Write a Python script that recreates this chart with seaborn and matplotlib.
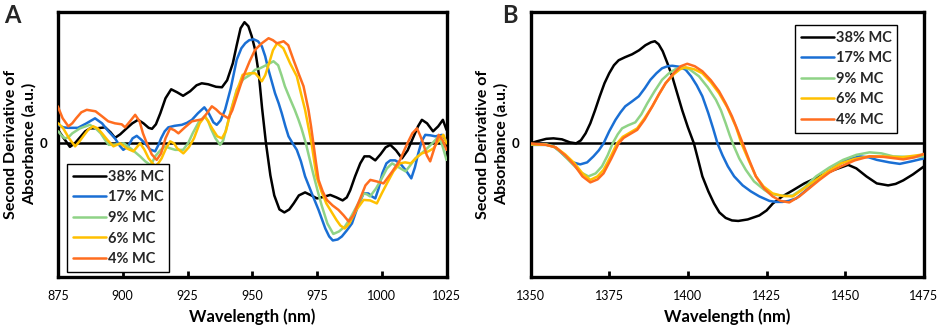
import matplotlib
matplotlib.use("Agg")
import matplotlib.pyplot as plt
import seaborn as sns
import pandas as pd

# ---------------- data ----------------
series_labels = ["38% MC", "17% MC", "9% MC", "6% MC", "4% MC"]
series_colors = ["#000000", "#1a6fd4", "#8fd386", "#ffc000", "#ff6d1f"]

# Panel A (875-1025 nm)
a_wl_38 = [875.0, 877, 879.6, 881.5, 883.5, 885.5, 887.4, 890, 893.2, 895.3, 897.0, 899, 901.5, 903.7,
           905.9, 908, 910, 911.3, 912.8, 914.5, 916.5, 918.7, 921, 923.3, 926, 928.5, 930.5, 933, 936,
           938.3, 940.3, 942.5, 944, 945.5, 947.0, 948.5, 949.8, 951.1, 952.5, 953.8, 955.3, 957, 958.5,
           960.5, 962.4, 964.3, 966, 968, 970.4, 972.8, 975.0, 977.5, 980.1, 982.5, 984.9, 986.5, 987.8,
           989.7, 991.7, 993.3, 995.3, 997.5, 999.5, 1001.5, 1003.3, 1005.5, 1007.8, 1010, 1012, 1014,
           1015.5, 1017.5, 1019.8, 1021.8, 1023.6, 1025.0]
a_v_38 = [0.135, 0.06, -0.035, 0.0, 0.06, 0.12, 0.15, 0.15, 0.16, 0.11, 0.055, 0.09, 0.15, 0.2,
          0.235, 0.2, 0.155, 0.145, 0.19, 0.3, 0.45, 0.54, 0.51, 0.475, 0.52, 0.58, 0.6, 0.59, 0.565,
          0.56, 0.63, 0.8, 0.98, 1.15, 1.21, 1.17, 1.07, 0.935, 0.7, 0.35, 0.0, -0.32, -0.52,
          -0.66, -0.69, -0.66, -0.6, -0.52, -0.49, -0.52, -0.55, -0.535, -0.515, -0.54, -0.57, -0.54, -0.47,
          -0.33, -0.2, -0.13, -0.13, -0.17, -0.11, -0.04, -0.015, -0.07, -0.15, -0.07, 0.05, 0.17,
          0.235, 0.2, 0.12, 0.17, 0.235, 0.135]

a_wl_17 = [875.1, 877, 878.9, 882.7, 886, 889.3, 892, 894.5, 897.0, 898.7, 900.2, 902, 903.8, 905.4,
           907, 908.6, 910.5, 912.5, 913.7, 914.8, 916.2, 917.6, 920, 922.8, 924.8, 926.7, 929, 931.5,
           933.2, 935, 936.3, 937.8, 939.5, 941.7, 944.0, 945.8, 947.3, 948.8, 950.5, 952.2, 953.7, 955,
           956.1, 957.5, 958.8, 960.2, 961.4, 962.8, 964.0, 965.6, 967.2, 968.8, 970.4, 973, 975.6, 978.2,
           979.7, 981.1, 983, 984.6, 986.5, 988.5, 990.9, 993.0, 994.8, 996.2, 997.5, 998.8, 1000.2,
           1001.8, 1003.3, 1005.2, 1007.1, 1009.3, 1011.4, 1012.8, 1014.1, 1015.4, 1016.8, 1018.8,
           1020.7, 1023.3, 1025.0]
a_v_17 = [0.185, 0.16, 0.155, 0.155, 0.2, 0.25, 0.2, 0.12, 0.05, -0.02, -0.065, -0.03, 0.05, 0.075,
          0.04, 0.0, -0.06, -0.08, -0.02, 0.05, 0.12, 0.16, 0.175, 0.185, 0.205, 0.235, 0.3, 0.36,
          0.3, 0.21, 0.185, 0.23, 0.335, 0.55, 0.835, 0.95, 1.0, 1.03, 1.04, 1.02, 0.97, 0.87,
          0.75, 0.62, 0.5, 0.4, 0.3, 0.17, 0.07, 0.0, -0.065, -0.18, -0.33, -0.5, -0.665, -0.85,
          -0.93, -0.97, -0.96, -0.93, -0.87, -0.8, -0.62, -0.5, -0.5, -0.53, -0.55, -0.45, -0.3,
          -0.2, -0.17, -0.17, -0.2, -0.27, -0.35, -0.24, -0.1, 0.02, 0.085, 0.08,
          0.07, 0.085, 0.02]

a_wl_9 = [875.1, 876.3, 877.6, 879, 880.5, 883.5, 887.3, 889.5, 891.5, 893, 894.6, 897.5, 900.4, 903.5,
          906.7, 908.7, 910.6, 911.6, 912.5, 914.5, 916.4, 918.3, 920.3, 923.3, 925.2, 927.0, 929.5,
          931.7, 933, 934.0, 935.8, 937.6, 938.8, 940.0, 942, 944.0, 946.5, 949.2, 951.1, 953.0, 956.1,
          958.2, 960.0, 961.3, 962.6, 964.5, 966.4, 967.8, 969.0, 970.7, 972, 973.5, 975.2, 976.8, 979,
          981.3, 983.5, 985.8, 988, 990.3, 993.0, 994.3, 995.5, 997.8, 1000.0, 1002, 1004.0, 1006.6,
          1009.2, 1011, 1013.0, 1016.9, 1019.5, 1022.0, 1023.5, 1025.0]
a_v_9 = [0.12, 0.08, 0.05, 0.06, 0.1, 0.15, 0.185, 0.15, 0.1, 0.04, -0.015, -0.01, 0.0, -0.06,
         -0.13, -0.18, -0.215, -0.18, -0.13, -0.07, -0.03, -0.05, -0.065, -0.065, 0.0, 0.1, 0.22,
         0.27, 0.22, 0.15, 0.05, -0.015, 0.03, 0.15, 0.35, 0.535, 0.64, 0.685, 0.735, 0.75, 0.79,
         0.82, 0.78, 0.68, 0.57, 0.45, 0.335, 0.24, 0.15, 0.0, -0.14, -0.3, -0.47, -0.62, -0.8,
         -0.905, -0.88, -0.83, -0.74, -0.63, -0.5, -0.51, -0.53, -0.45, -0.35, -0.25, -0.2, -0.24,
         -0.28, -0.22, -0.15, -0.065, 0.0, 0.07, -0.03, -0.165]

a_wl_6 = [875.1, 877.0, 879.3, 881.6, 883.3, 885.0, 886.8, 888.6, 890.3, 892.0, 894.2, 896.4, 899.0,
          901.5, 904.1, 905.4, 906.7, 908.3, 910.0, 912.5, 913.7, 915.0, 916.7, 918.3, 919.8, 921.0,
          923.4, 925.5, 927.5, 929.7, 931.7, 933, 934.5, 936.5, 938.3, 939.8, 941.5, 944, 946.3, 949.0,
          951.1, 952.5, 953.7, 955, 956.5, 958, 959.6, 962.0, 964.6, 967.2, 968.8, 970.4, 971.7, 972.9,
          974.8, 976.7, 978.6, 982.5, 984, 985.7, 987.5, 990.2, 993.0, 995.5, 998.1, 1000, 1002.0,
          1004.5, 1007.0, 1009, 1011.2, 1013.5, 1015.5, 1018, 1020.0, 1022, 1023.8, 1025.0]
a_v_6 = [0.2, 0.15, 0.05, -0.03, 0.02, 0.08, 0.14, 0.17, 0.15, 0.1, 0.03, -0.03, 0.0,
         -0.05, -0.08, -0.04, 0.0, -0.06, -0.15, -0.23, -0.2, -0.15, -0.05, 0.02, 0.0, -0.05,
         -0.1, -0.04, 0.05, 0.2, 0.27, 0.22, 0.15, 0.07, 0.05, 0.12, 0.3, 0.52, 0.685, 0.7,
         0.7, 0.66, 0.62, 0.68, 0.8, 0.93, 1.0, 0.95, 0.8, 0.67, 0.5, 0.335, 0.16, 0.0,
         -0.33, -0.48, -0.6, -0.765, -0.82, -0.85, -0.8, -0.665, -0.565, -0.57, -0.6, -0.5, -0.4,
         -0.28, -0.2, -0.19, -0.2, -0.14, -0.1, -0.08, -0.05, 0.03, 0.085, 0.0]

a_wl_4 = [874.9, 876.8, 879.0, 880.5, 882.0, 884, 886.1, 889.5, 892, 894.4, 897, 899.6, 900.9, 902.8,
          904.8, 906.5, 907.8, 909.3, 911.2, 913.1, 914.8, 916.5, 918.3, 920, 921.5, 924, 926.7, 930.6,
          932.5, 934.4, 936, 937.6, 940.8, 942.3, 943.8, 946.6, 949, 951.1, 953.7, 956.3, 958, 959.5,
          961, 962.1, 963.9, 965.9, 968, 969.8, 971.7, 972.7, 973.6, 974.6, 975.6, 977.2, 978.8, 981,
          983.3, 985.3, 987.2, 989.0, 991.7, 993.7, 995.6, 998, 1000.7, 1004.1, 1007.1, 1008.5, 1009.9,
          1011.8, 1013.6, 1014.8, 1016.0, 1017.4, 1018.7, 1020.3, 1022.0, 1023.5, 1025.0]
a_v_4 = [0.37, 0.25, 0.17, 0.2, 0.25, 0.31, 0.335, 0.32, 0.27, 0.22, 0.2, 0.19, 0.16, 0.22,
         0.285, 0.22, 0.1, 0.0, -0.11, -0.165, -0.1, 0.05, 0.15, 0.13, 0.1, 0.16, 0.22, 0.24,
         0.3, 0.37, 0.34, 0.3, 0.25, 0.33, 0.45, 0.67, 0.82, 0.935, 1.0, 1.05, 1.03, 1.0,
         1.01, 1.02, 0.98, 0.835, 0.69, 0.57, 0.335, 0.17, 0.0, -0.19, -0.365, -0.48, -0.565, -0.62,
         -0.665, -0.72, -0.78, -0.72, -0.55, -0.42, -0.365, -0.38, -0.4, -0.28, -0.165, -0.08, 0.0,
         0.1, 0.15, 0.08, 0.0, -0.12, -0.18, -0.05, 0.085, 0.03, -0.065]

# Panel B (1350-1475 nm)
b_wl_38 = [1350, 1352, 1355, 1357.3, 1360, 1362.5, 1364.5, 1366, 1367.5, 1369, 1370.5, 1372, 1373.5,
           1375, 1376.5, 1378, 1380, 1382.3, 1384.5, 1386.5, 1388.3, 1389.5, 1390.7, 1392, 1393.5,
           1395, 1396.6, 1398.2, 1400, 1401.9, 1403.3, 1404.6, 1406.5, 1408.3, 1410, 1412, 1414, 1416,
           1419, 1422.7, 1425, 1427, 1430, 1433.3, 1437, 1441.8, 1446, 1450.9, 1453.5, 1456.7, 1460,
           1463.6, 1466, 1468.4, 1471.5, 1475]
b_v_38 = [0.0, 0.02, 0.045, 0.05, 0.04, 0.01, 0.0, 0.03, 0.1, 0.2, 0.33, 0.47, 0.6,
          0.7, 0.78, 0.83, 0.86, 0.89, 0.93, 0.98, 1.01, 1.02, 0.99, 0.92, 0.8,
          0.67, 0.5, 0.33, 0.16, 0.0, -0.17, -0.33, -0.48, -0.6, -0.69, -0.745, -0.77, -0.775,
          -0.76, -0.72, -0.67, -0.6, -0.53, -0.47, -0.4, -0.33, -0.27, -0.215, -0.25, -0.33, -0.4,
          -0.42, -0.405, -0.37, -0.31, -0.23]

b_wl_17 = [1350, 1355, 1357.3, 1359, 1361, 1363.5, 1365.8, 1368, 1370, 1371.7, 1373.2, 1375, 1377,
           1378.6, 1380.1, 1382.3, 1384.4, 1386.3, 1388.1, 1390, 1391.8, 1393.5, 1395, 1397.3, 1399.3,
           1401, 1402.8, 1404.6, 1406.5, 1408, 1409.4, 1411, 1412.7, 1414.7, 1417.4, 1420, 1422.7,
           1425.9, 1428, 1430, 1432, 1434.4, 1437.5, 1441.3, 1444.5, 1447.7, 1451, 1454.6, 1457.5, 1460,
           1464, 1467.3, 1471, 1475]
b_v_17 = [-0.015, -0.015, -0.03, -0.07, -0.13, -0.19, -0.21, -0.19, -0.13, -0.07, 0.0, 0.12, 0.235,
          0.31, 0.37, 0.42, 0.47, 0.55, 0.635, 0.7, 0.75, 0.77, 0.775, 0.765, 0.735,
          0.67, 0.58, 0.47, 0.3, 0.15, 0.0, -0.12, -0.23, -0.33, -0.42, -0.48, -0.53,
          -0.575, -0.585, -0.585, -0.575, -0.55, -0.47, -0.365, -0.28, -0.215, -0.16, -0.13, -0.14, -0.165,
          -0.19, -0.205, -0.18, -0.15]

b_wl_9 = [1350, 1355, 1357.3, 1360, 1363.1, 1366, 1368.4, 1370.7, 1372.7, 1374.5, 1376.1, 1377.7,
          1379.1, 1381, 1383.3, 1385.2, 1387.1, 1389.4, 1391.8, 1394, 1396, 1398.2, 1400.5, 1403.5,
          1406.3, 1408.9, 1410.5, 1412, 1413.3, 1414.5, 1416.3, 1418.4, 1421, 1424.3, 1426, 1428, 1431,
          1433.3, 1437, 1440.7, 1445, 1449.3, 1453.5, 1457.7, 1461.5, 1465.2, 1470, 1475]
b_v_9 = [-0.01, -0.01, -0.03, -0.1, -0.2, -0.29, -0.33, -0.3, -0.23, -0.12, 0.0, 0.09,
         0.15, 0.18, 0.21, 0.29, 0.4, 0.52, 0.635, 0.7, 0.74, 0.76, 0.74, 0.67,
         0.56, 0.435, 0.33, 0.2, 0.08, -0.02, -0.15, -0.265, -0.38, -0.465, -0.5, -0.515, -0.525,
         -0.52, -0.44, -0.33, -0.24, -0.165, -0.115, -0.09, -0.1, -0.13, -0.135, -0.13]

b_wl_6 = [1350, 1355, 1358, 1361, 1364, 1366.5, 1369, 1371.3, 1373.2, 1375.5, 1377.5, 1379.3, 1381.2,
          1383.9, 1386.2, 1388.7, 1390.8, 1392.9, 1395.5, 1397.5, 1399.3, 1402, 1404.6, 1407.3, 1409.9,
          1412.5, 1415.2, 1417, 1419.3, 1421.6, 1424, 1426.9, 1430, 1433.3, 1436.5, 1440.7, 1444.5,
          1448.7, 1453, 1457.7, 1462, 1468, 1475]
b_v_6 = [-0.01, -0.015, -0.04, -0.11, -0.2, -0.3, -0.365, -0.33, -0.265, -0.13, 0.0, 0.065, 0.1,
         0.15, 0.25, 0.37, 0.49, 0.6, 0.69, 0.74, 0.76, 0.74, 0.7, 0.61, 0.5,
         0.36, 0.17, 0.0, -0.17, -0.33, -0.43, -0.5, -0.525, -0.53, -0.46, -0.365, -0.28,
         -0.2, -0.155, -0.13, -0.13, -0.14, -0.11]

b_wl_4 = [1350, 1355, 1358, 1361, 1364, 1366.5, 1369, 1371.3, 1373.2, 1375.7, 1378, 1379.6, 1381.2,
          1383.9, 1386.3, 1388.7, 1390.8, 1392.9, 1395.5, 1397.7, 1399.8, 1402.2, 1404.6, 1407.3,
          1409.9, 1412, 1414, 1415.8, 1417.4, 1419.5, 1421.6, 1424.2, 1426.9, 1429.5, 1432.2, 1435.4,
          1438.5, 1441.8, 1445, 1448.7, 1453, 1457.7, 1462, 1468.4, 1472, 1475]
b_v_4 = [0.0, -0.015, -0.04, -0.12, -0.22, -0.33, -0.39, -0.36, -0.3, -0.15, 0.0, 0.055, 0.085,
         0.135, 0.24, 0.37, 0.49, 0.6, 0.7, 0.77, 0.795, 0.77, 0.72, 0.63,
         0.52, 0.4, 0.27, 0.13, 0.0, -0.17, -0.33, -0.45, -0.53, -0.575, -0.59, -0.53,
         -0.45, -0.365, -0.29, -0.23, -0.17, -0.13, -0.135, -0.16, -0.14, -0.105]

a_ticks = [875, 900, 925, 950, 975, 1000, 1025]
b_ticks = [1350, 1375, 1400, 1425, 1450, 1475]

panel_a = [(a_wl_38, a_v_38), (a_wl_17, a_v_17), (a_wl_9, a_v_9), (a_wl_6, a_v_6), (a_wl_4, a_v_4)]
panel_b = [(b_wl_38, b_v_38), (b_wl_17, b_v_17), (b_wl_9, b_v_9), (b_wl_6, b_v_6), (b_wl_4, b_v_4)]

# ---------------- style ----------------
sns.set_theme(style="white")
plt.rcParams["font.family"] = ["Lato", "DejaVu Sans"]

fig = plt.figure(figsize=(9.41, 3.33), dpi=100)
ax_a = fig.add_axes([58 / 941, 1 - 277 / 333, 388.5 / 941, 265.3 / 333])
ax_b = fig.add_axes([530.5 / 941, 1 - 277 / 333, 393.5 / 941, 265.3 / 333])


def make_df(panel):
    frames = []
    for (wl, v), lab in zip(panel, series_labels):
        frames.append(pd.DataFrame({"Wavelength": wl, "Value": v, "Series": lab}))
    return pd.concat(frames, ignore_index=True)


def draw(ax, panel, xlim, ticks):
    df = make_df(panel)
    ax.axhline(0, color="black", lw=1.8, zorder=1)
    sns.lineplot(data=df, x="Wavelength", y="Value", hue="Series", hue_order=series_labels,
                 palette=series_colors, estimator=None, sort=False, lw=1.8, ax=ax, legend=False,
                 zorder=3)
    for ln in ax.lines[1:]:
        ln.set_solid_joinstyle("round")
        ln.set_solid_capstyle("round")
    ax.set_xlim(*xlim)
    ax.set_ylim(-1.335, 1.315)
    ax.set_xticks(ticks)
    ax.set_xticklabels([str(t) for t in ticks])
    ax.set_yticks([0])
    ax.set_yticklabels(["0"])
    ax.tick_params(axis="x", direction="in", length=4, width=2, pad=9, labelsize=9, colors="black",
                   bottom=True)
    ax.tick_params(axis="y", length=0, pad=8, labelsize=9.5, labelcolor="black")
    for lab in ax.get_yticklabels():
        lab.set_fontweight("bold")
    for sp in ax.spines.values():
        sp.set_visible(True)
        sp.set_color("black")
        sp.set_linewidth(2.4)
    ax.set_xlabel("Wavelength (nm)", fontsize=12, fontweight="bold", labelpad=5, color="black")
    ax.set_ylabel("Second Derivative of\nAbsorbance (a.u.)", fontsize=11.5, fontweight="bold",
                  labelpad=2, color="black", linespacing=1.35)
    ax.grid(False)


draw(ax_a, panel_a, (875, 1025), a_ticks)
draw(ax_b, panel_b, (1350, 1475), b_ticks)

leg_kw = dict(frameon=True, fancybox=False, framealpha=1, edgecolor="black", fontsize=10.5,
              handlelength=2.3, handletextpad=0.1, labelspacing=0.45, borderpad=0.4,
              borderaxespad=0)
leg_a = ax_a.legend(ax_a.lines[1:], series_labels, loc="lower left",
                    bbox_to_anchor=(0.023, 0.019), **leg_kw)
leg_b = ax_b.legend(ax_b.lines[1:], series_labels, loc="upper left",
                    bbox_to_anchor=(0.672, 0.95), **leg_kw)
for leg in (leg_a, leg_b):
    leg.get_frame().set_linewidth(1.0)
    for t in leg.get_texts():
        t.set_fontweight("bold")
    for l in leg.get_lines():
        l.set_linewidth(1.8)

fig.text(4 / 941, 1 - 4 / 333, "A", fontsize=17, fontweight="bold", va="top", ha="left")
fig.text(502 / 941, 1 - 4 / 333, "B", fontsize=17, fontweight="bold", va="top", ha="left")

fig.savefig("out.png", dpi=100)
